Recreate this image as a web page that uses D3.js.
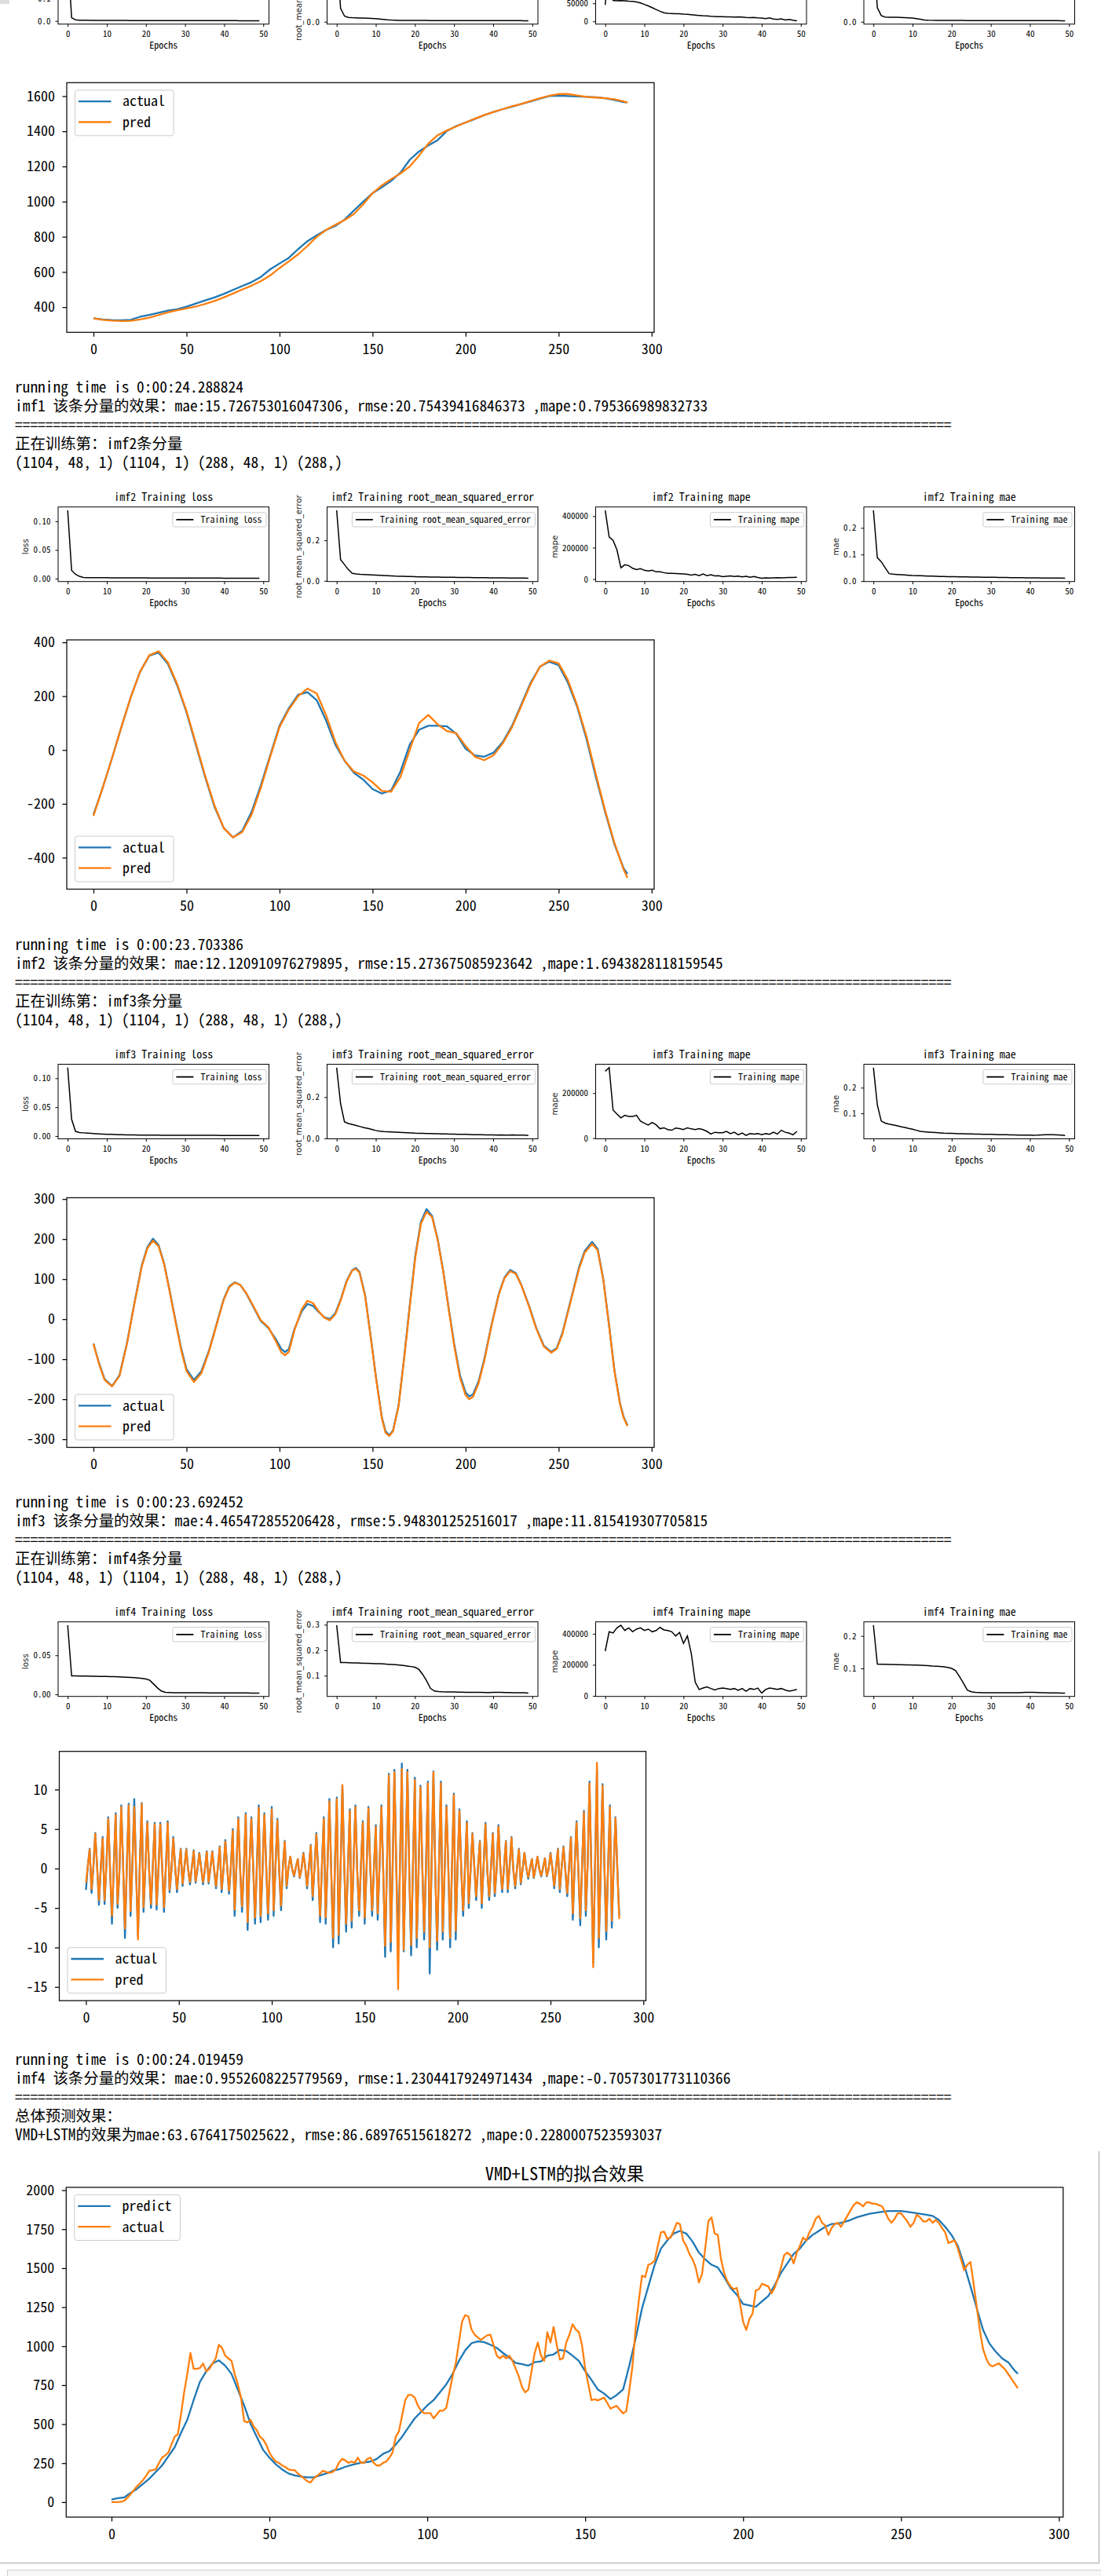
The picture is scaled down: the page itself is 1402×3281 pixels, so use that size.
<!DOCTYPE html>
<html>
<head>
<meta charset="utf-8">
<script src="https://cdn.jsdelivr.net/npm/d3@7"></script>
<style>
body { margin: 0; background: #fff; }
svg { display: block; }
</style>
</head>
<body>
<div class="canvas"></div>
<script>
// ---------- data ----------
var imfNames = ["imf1", "imf2", "imf3", "imf4"];
var metrics = ["loss", "root_mean_squared_error", "mape", "mae"];
var epochTicks = ["0", "10", "20", "30", "40", "50"];

// training history, 50 epochs each
var imf1Loss = [0.30, 0.014, 0.005, 0.0035, 0.003, 0.0028, 0.0026, 0.0025, 0.0024, 0.0023, 0.0022, 0.0021, 0.002, 0.002, 0.0019, 0.0019, 0.0018, 0.0018, 0.0017, 0.0017, 0.0016, 0.0016, 0.0016, 0.0015, 0.0015, 0.0015, 0.0014, 0.0014, 0.0014, 0.0014, 0.0013, 0.0013, 0.0013, 0.0013, 0.0012, 0.0012, 0.0012, 0.0012, 0.0012, 0.0011, 0.0011, 0.0011, 0.0011, 0.0011, 0.001, 0.001, 0.001, 0.001, 0.001, 0.001];
var imf1Rmse = [0.55, 0.108, 0.045, 0.034, 0.032, 0.031, 0.030, 0.029, 0.028, 0.026, 0.024, 0.021, 0.018, 0.015, 0.013, 0.012, 0.011, 0.011, 0.0105, 0.0105, 0.010, 0.010, 0.010, 0.0098, 0.0097, 0.0096, 0.0095, 0.0094, 0.0093, 0.0092, 0.0091, 0.009, 0.009, 0.0089, 0.0088, 0.0088, 0.0087, 0.0087, 0.0086, 0.0086, 0.0085, 0.0085, 0.0084, 0.0084, 0.0083, 0.0083, 0.0082, 0.0082, 0.0081, 0.0081];
var imf1Mape = [45600, 190000, 58000, 57000, 57500, 57000, 56000, 55500, 54000, 51000, 47000, 43000, 38000, 33000, 28000, 24000, 22000, 21500, 21000, 21000, 20000, 19500, 18500, 17500, 16500, 15500, 15000, 14000, 13500, 13000, 13000, 12500, 12500, 12000, 12500, 12000, 11000, 10500, 11000, 9500, 9000, 7500, 9500, 6500, 5500, 7000, 4000, 5500, 3000, 1800];
var imf1Mae = [0.45, 0.092, 0.04, 0.031, 0.030, 0.030, 0.029, 0.028, 0.027, 0.026, 0.024, 0.02, 0.016, 0.012, 0.010, 0.0095, 0.009, 0.009, 0.0088, 0.0087, 0.0086, 0.0085, 0.0084, 0.0083, 0.0082, 0.0081, 0.008, 0.008, 0.0079, 0.0079, 0.0078, 0.0078, 0.0077, 0.0077, 0.0076, 0.0076, 0.0075, 0.0075, 0.0074, 0.0074, 0.0073, 0.0073, 0.0072, 0.0072, 0.0071, 0.0071, 0.007, 0.007, 0.0069, 0.0069];

var imf2Loss = [0.119, 0.0143, 0.0076, 0.004, 0.002, 0.0018, 0.0017, 0.0016, 0.0016, 0.0015, 0.0015, 0.0014, 0.0014, 0.0014, 0.0013, 0.0013, 0.0013, 0.0012, 0.0012, 0.0012, 0.0012, 0.0011, 0.0011, 0.0011, 0.0011, 0.0011, 0.001, 0.001, 0.001, 0.001, 0.001, 0.001, 0.001, 0.0009, 0.0009, 0.0009, 0.0009, 0.0009, 0.0009, 0.0009, 0.0008, 0.0008, 0.0008, 0.0008, 0.0008, 0.0008, 0.0008, 0.0008, 0.0008, 0.0008];
var imf2Rmse = [0.348, 0.105, 0.08, 0.055, 0.0366, 0.034, 0.032, 0.031, 0.030, 0.029, 0.028, 0.027, 0.026, 0.025, 0.024, 0.023, 0.0225, 0.022, 0.0215, 0.021, 0.0205, 0.020, 0.0198, 0.0195, 0.019, 0.0188, 0.0185, 0.018, 0.0178, 0.0175, 0.0172, 0.017, 0.0168, 0.0165, 0.0162, 0.016, 0.0158, 0.0155, 0.0152, 0.015, 0.0148, 0.0146, 0.0145, 0.0143, 0.0141, 0.014, 0.0138, 0.0136, 0.0134, 0.0132];
var imf2Mape = [437000, 268000, 246000, 185000, 72000, 91000, 86000, 69000, 61000, 66000, 56000, 52000, 56000, 46000, 47000, 41000, 37000, 36000, 35000, 34000, 33000, 30000, 26000, 30000, 22000, 32000, 22000, 28000, 20000, 22000, 16000, 18000, 20000, 17000, 19000, 14000, 18000, 12000, 16000, 10000, 6000, 8000, 7000, 8000, 9000, 8000, 9000, 10000, 11000, 12000];
var imf2Mae = [0.266, 0.088, 0.073, 0.05, 0.028, 0.026, 0.025, 0.024, 0.023, 0.022, 0.021, 0.0205, 0.02, 0.0195, 0.019, 0.0185, 0.018, 0.0175, 0.017, 0.0168, 0.0165, 0.0162, 0.016, 0.0158, 0.0155, 0.0152, 0.015, 0.0148, 0.0146, 0.0144, 0.0142, 0.014, 0.0138, 0.0136, 0.0134, 0.0132, 0.013, 0.0128, 0.0126, 0.0124, 0.0122, 0.012, 0.0118, 0.0117, 0.0116, 0.0115, 0.0114, 0.0113, 0.0112, 0.011];

var imf3Loss = [0.1185, 0.029, 0.008, 0.006, 0.0055, 0.005, 0.0045, 0.004, 0.0036, 0.0033, 0.003, 0.0028, 0.0026, 0.0024, 0.0022, 0.002, 0.0019, 0.0018, 0.0017, 0.0017, 0.0016, 0.0016, 0.0015, 0.0015, 0.0014, 0.0014, 0.0014, 0.0013, 0.0013, 0.0013, 0.0012, 0.0012, 0.0012, 0.0012, 0.0011, 0.0011, 0.0011, 0.0011, 0.0011, 0.001, 0.001, 0.001, 0.001, 0.001, 0.001, 0.001, 0.001, 0.001, 0.001, 0.001];
var imf3Rmse = [0.343, 0.168, 0.08, 0.072, 0.067, 0.062, 0.057, 0.052, 0.048, 0.043, 0.038, 0.035, 0.033, 0.032, 0.031, 0.03, 0.029, 0.028, 0.027, 0.026, 0.025, 0.0245, 0.024, 0.0235, 0.023, 0.0225, 0.022, 0.0215, 0.021, 0.0205, 0.02, 0.0198, 0.0195, 0.019, 0.0185, 0.018, 0.0178, 0.0175, 0.017, 0.0168, 0.0165, 0.016, 0.0162, 0.0158, 0.016, 0.0165, 0.016, 0.0158, 0.0152, 0.014];
var imf3Mape = [297000, 313000, 125000, 107000, 90000, 101000, 96000, 96000, 101000, 76000, 66000, 58000, 70000, 59000, 42000, 46000, 38000, 35000, 45000, 42000, 38000, 46000, 41000, 38000, 42000, 38000, 30000, 18000, 26000, 24000, 24000, 30000, 20000, 26000, 15000, 23000, 12000, 20000, 18000, 20000, 15000, 20000, 17000, 26000, 18000, 35000, 26000, 22000, 15000, 30000];
var imf3Mae = [0.278, 0.133, 0.07, 0.062, 0.058, 0.055, 0.052, 0.048, 0.045, 0.041, 0.038, 0.034, 0.03, 0.028, 0.027, 0.026, 0.025, 0.024, 0.023, 0.0225, 0.022, 0.0215, 0.021, 0.0205, 0.02, 0.0198, 0.0195, 0.019, 0.0185, 0.0182, 0.018, 0.0175, 0.017, 0.0168, 0.0165, 0.016, 0.0158, 0.0155, 0.0152, 0.015, 0.015, 0.0148, 0.0152, 0.016, 0.0165, 0.017, 0.0165, 0.016, 0.015, 0.014];

var imf4Loss = [0.0884, 0.0237, 0.0236, 0.0235, 0.0234, 0.0233, 0.0232, 0.0231, 0.023, 0.0229, 0.0228, 0.0227, 0.0226, 0.0224, 0.0222, 0.022, 0.0217, 0.0213, 0.0208, 0.0203, 0.0197, 0.018, 0.013, 0.008, 0.004, 0.0025, 0.0023, 0.0022, 0.0022, 0.0021, 0.0021, 0.0021, 0.002, 0.002, 0.002, 0.002, 0.0019, 0.0019, 0.0019, 0.0019, 0.0019, 0.0018, 0.0018, 0.0018, 0.0018, 0.0018, 0.0018, 0.0017, 0.0017, 0.0017];
var imf4Rmse = [0.298, 0.152, 0.1515, 0.151, 0.1505, 0.150, 0.1495, 0.149, 0.1485, 0.148, 0.1475, 0.147, 0.146, 0.145, 0.144, 0.143, 0.142, 0.14, 0.138, 0.136, 0.133, 0.125, 0.105, 0.08, 0.05, 0.04, 0.038, 0.037, 0.0365, 0.036, 0.036, 0.0355, 0.0355, 0.035, 0.035, 0.035, 0.0345, 0.0345, 0.034, 0.034, 0.0345, 0.035, 0.0345, 0.034, 0.034, 0.0335, 0.0335, 0.033, 0.033, 0.032];
var imf4Mape = [288000, 413000, 405000, 438000, 455000, 421000, 438000, 413000, 430000, 438000, 421000, 430000, 413000, 421000, 441000, 425000, 421000, 413000, 386000, 408000, 338000, 386000, 272000, 88000, 41000, 50000, 58000, 47000, 38000, 47000, 50000, 47000, 41000, 47000, 35000, 47000, 30000, 47000, 41000, 50000, 18000, 41000, 50000, 47000, 41000, 47000, 38000, 30000, 35000, 41000];
var imf4Mae = [0.233, 0.113, 0.1128, 0.1125, 0.1122, 0.112, 0.1117, 0.1114, 0.111, 0.1107, 0.1104, 0.11, 0.1095, 0.109, 0.1085, 0.107, 0.1065, 0.106, 0.105, 0.103, 0.1, 0.093, 0.075, 0.055, 0.033, 0.028, 0.026, 0.0255, 0.025, 0.025, 0.025, 0.0248, 0.0248, 0.0247, 0.0247, 0.0248, 0.025, 0.0252, 0.0255, 0.026, 0.0262, 0.026, 0.0255, 0.025, 0.0248, 0.0245, 0.0245, 0.0242, 0.024, 0.024];

// y tick labels of the small panels (loss, rmse, mape, mae)
var imf1SmallTicks = [["0.0", "0.1", "0.2", "0.3"], ["0.0", "0.2", "0.4"], ["0", "50000", "100000", "150000"], ["0.0", "0.2", "0.4"]];
var imf2SmallTicks = [["0.00", "0.05", "0.10"], ["0.0", "0.2"], ["0", "200000", "400000"], ["0.0", "0.1", "0.2"]];
var imf3SmallTicks = [["0.00", "0.05", "0.10"], ["0.0", "0.2"], ["0", "200000"], ["0.0", "0.1", "0.2"]];
var imf4SmallTicks = [["0.00", "0.05"], ["0.1", "0.2", "0.3"], ["0", "200000", "400000"], ["0.1", "0.2"]];

// test-set predictions, 288 points (some series read at a coarser step)
var bigXTicks = ["0", "50", "100", "150", "200", "250", "300"];

var imf1Index = d3.range(0, 286, 5).concat([287]);
var imf1Actual = [336, 330, 326, 325, 328, 345, 356, 368, 380, 388, 402, 420, 438, 455, 475, 498, 520, 542, 572, 615, 648, 680, 730, 775, 808, 838, 862, 898, 950, 1000, 1048, 1082, 1118, 1165, 1238, 1285, 1320, 1350, 1402, 1430, 1450, 1470, 1492, 1510, 1526, 1540, 1556, 1570, 1586, 1600, 1603, 1600, 1598, 1596, 1594, 1588, 1578, 1566, 1565];
var imf1Pred = [336, 328, 323, 321, 322, 330, 340, 355, 370, 382, 392, 403, 418, 435, 455, 477, 500, 522, 548, 580, 622, 660, 700, 748, 800, 838, 868, 895, 930, 985, 1048, 1092, 1128, 1160, 1200, 1262, 1330, 1378, 1405, 1428, 1450, 1472, 1492, 1510, 1526, 1542, 1556, 1572, 1588, 1602, 1612, 1612, 1604, 1596, 1592, 1588, 1582, 1570, 1562];
var imf1YTicks = ["400", "600", "800", "1000", "1200", "1400", "1600"];

var imf2Index = d3.range(0, 286, 5).concat([287]);
var imf2Actual = [-240, -140, -30, 85, 195, 290, 350, 362, 320, 240, 140, 20, -100, -210, -290, -325, -300, -230, -130, -20, 90, 155, 205, 215, 185, 110, 20, -40, -85, -110, -145, -162, -150, -80, 20, 75, 90, 90, 88, 60, 5, -20, -25, -10, 30, 90, 170, 250, 310, 328, 315, 250, 160, 40, -100, -230, -350, -440, -460];
var imf2Pred = [-245, -140, -30, 85, 195, 290, 352, 367, 325, 245, 145, 25, -95, -205, -290, -325, -305, -240, -140, -25, 85, 150, 200, 228, 210, 130, 30, -40, -80, -95, -120, -152, -155, -100, 0, 100, 130, 95, 70, 62, 15, -25, -38, -20, 25, 85, 165, 245, 310, 332, 322, 260, 165, 50, -90, -225, -345, -445, -475];
var imf2YTicks = ["-400", "-200", "0", "200", "400"];

var imf3Index = [0, 3, 6, 10, 14, 18, 22, 26, 29, 32, 35, 38, 41, 44, 47, 50, 54, 58, 62, 66, 70, 73, 76, 79, 82, 86, 90, 94, 98, 101, 103, 105, 108, 112, 115, 118, 121, 124, 127, 130, 133, 136, 139, 141, 143, 146, 149, 152, 155, 157, 159, 161, 164, 167, 170, 173, 176, 179, 182, 185, 188, 191, 194, 197, 200, 202, 204, 207, 210, 214, 218, 221, 224, 227, 230, 234, 238, 242, 246, 249, 252, 255, 258, 261, 264, 268, 271, 274, 277, 280, 283, 285, 287];
var imf3Actual = [-61, -110, -150, -167, -140, -60, 40, 135, 180, 201, 185, 139, 70, -1, -70, -125, -152, -130, -80, -15, 50, 82, 92, 85, 65, 30, -5, -22, -50, -75, -82, -75, -25, 20, 38, 33, 18, 5, 0, 15, 50, 95, 122, 128, 118, 60, -43, -150, -245, -280, -290, -278, -215, -95, 35, 160, 243, 275, 258, 200, 120, 25, -65, -140, -183, -193, -188, -155, -101, -13, 66, 105, 123, 115, 85, 35, -22, -66, -82, -72, -35, 20, 75, 130, 170, 193, 175, 100, -10, -128, -210, -245, -265];
var imf3Pred = [-62, -112, -152, -168, -142, -62, 38, 132, 177, 196, 182, 137, 68, -4, -74, -130, -157, -135, -83, -17, 48, 80, 91, 85, 66, 32, -3, -20, -55, -83, -90, -82, -28, 25, 46, 40, 20, 4, -3, 12, 48, 93, 121, 126, 116, 58, -45, -152, -248, -284, -292, -280, -217, -98, 30, 155, 238, 268, 255, 198, 118, 22, -70, -146, -190, -200, -194, -160, -105, -15, 64, 103, 120, 113, 84, 33, -24, -68, -84, -74, -38, 17, 72, 126, 166, 188, 172, 98, -12, -130, -212, -247, -267];
var imf3YTicks = ["-300", "-200", "-100", "0", "100", "200", "300"];

var imf4Index = d3.range(288);
var imf4Actual = [
  -2.7, 0.3, 2.5, -3.1, 0.2, 4.5, 0.3, -4.6, 0.2, 4.0, -4.5, 0.4, 6.5, -0.3,
  -7.0, 0.5, 7.0, -5.0, -0.5, 8.0, 0.4, -8.8, 0.3, 8.2, -6.0, 0.5, 8.8, -0.4,
  -8.5, 0.6, 8.3, -5.5, 0.3, 6.0, -0.2, -5.0, 0.4, 5.8, -5.2, -0.3, 5.8, 0.3,
  -5.5, 0.2, 6.0, -3.0, -0.2, 4.0, 0.2, -3.0, 0.1, 2.5, -2.2, 0.2, 2.5, -0.1,
  -2.0, 0.2, 2.3, -1.8, -0.1, 2.0, 0.1, -2.0, -0.1, 2.2, -1.9, 0.1, 2.2, -0.2,
  -2.5, 0.2, 2.8, -3.0, -0.2, 3.6, 0.2, -3.2, 0.3, 5.0, -6.0, 0.4, 6.5, -0.3,
  -5.5, 0.3, 7.0, -7.8, 0.5, 6.5, 0.2, -7.0, 0.5, 8.0, -6.8, -0.3, 7.0, 0.3,
  -6.5, 0.4, 7.8, -6.0, 0.2, 6.3, -0.3, -5.3, 0.3, 3.5, -2.5, 0.1, 1.5, -0.1,
  -1.0, 0.2, 1.2, -1.2, -0.1, 2.0, 0.2, -2.5, 0.3, 3.0, -4.0, 0.2, 4.5, -0.3,
  -6.8, 0.4, 6.5, -7.0, 0.3, 8.8, -0.4, -10.0, 0.5, 9.0, -9.5, -0.4, 10.5, 0.4,
  -8.0, 0.3, 7.5, -7.5, 0.4, 8.0, -0.3, -6.0, 0.4, 6.0, -7.0, -0.3, 7.8, 0.3,
  -6.0, 0.2, 5.5, -6.5, 0.4, 8.0, -0.4, -11.2, 0.5, 12.0, -10.5, -0.5, 12.5, 0.5,
  -10.5, 0.6, 13.3, -10.5, 0.4, 12.5, -0.5, -11.0, 0.5, 11.5, -10.0, -0.4, 10.5, 0.4,
  -9.0, 0.4, 11.0, -13.3, 0.5, 12.3, -0.5, -10.3, 0.5, 11.0, -9.0, -0.4, 8.0, 0.3,
  -10.0, 0.4, 9.5, -9.0, 0.3, 7.5, -0.3, -6.0, 0.3, 6.0, -5.0, -0.2, 4.5, 0.2,
  -4.0, 0.2, 3.5, -5.0, 0.3, 5.8, -0.2, -4.0, 0.3, 4.5, -3.5, -0.2, 5.5, 0.2,
  -3.0, 0.2, 3.5, -3.0, 0.2, 4.0, -0.2, -2.5, 0.1, 2.5, -2.0, -0.1, 2.0, 0.1,
  -1.3, 0.1, 1.2, -1.2, 0.1, 1.5, -0.1, -1.0, 0.1, 1.3, -1.0, -0.1, 2.0, 0.1,
  -2.5, 0.2, 2.5, -3.0, 0.2, 2.8, -0.2, -3.5, 0.3, 4.0, -6.5, 0.3, 6.0, -0.3,
  -7.2, 0.4, 7.3, -6.0, 0.5, 11.0, -0.4, -12.0, 0.6, 12.5, -10.0, -0.5, 10.7, 0.5,
  -9.0, 0.4, 8.0, -7.5, 0.3, 6.5, -0.3, -6.0];
var imf4Pred = [
  -1.8, 0.3, 2.4, -2.6, 0.2, 4.4, 0.3, -4.0, 0.2, 3.8, -4.0, 0.4, 6.3, -0.3,
  -6.0, 0.5, 6.8, -4.5, -0.5, 7.8, 0.4, -7.6, 0.3, 8.0, -5.4, 0.5, 7.8, -0.4,
  -9.0, 0.6, 8.2, -4.9, 0.3, 5.8, -0.2, -4.5, 0.4, 5.6, -4.6, -0.3, 5.6, 0.3,
  -4.9, 0.2, 5.8, -2.7, -0.2, 3.8, 0.2, -2.6, 0.1, 2.4, -1.9, 0.2, 2.4, -0.1,
  -1.7, 0.2, 2.2, -1.6, -0.1, 1.9, 0.1, -1.7, -0.1, 2.1, -1.7, 0.1, 2.1, -0.2,
  -2.2, 0.2, 2.7, -2.6, -0.2, 3.4, 0.2, -2.8, 0.3, 4.8, -5.2, 0.4, 6.3, -0.3,
  -4.8, 0.3, 6.8, -6.8, 0.5, 6.3, 0.2, -6.2, 0.5, 7.7, -6.0, -0.3, 6.8, 0.3,
  -5.7, 0.4, 7.5, -5.3, 0.2, 6.1, -0.3, -4.7, 0.3, 3.4, -2.2, 0.1, 1.5, -0.1,
  -0.9, 0.2, 1.2, -1.1, -0.1, 1.9, 0.2, -2.2, 0.3, 2.9, -3.5, 0.2, 4.3, -0.3,
  -6.0, 0.4, 6.3, -6.2, 0.3, 8.5, -0.4, -8.8, 0.5, 8.8, -8.4, -0.4, 10.6, 0.4,
  -7.0, 0.3, 7.3, -6.6, 0.4, 7.8, -0.3, -5.3, 0.4, 5.8, -6.2, -0.3, 7.6, 0.3,
  -5.3, 0.2, 5.3, -5.7, 0.4, 7.8, -0.4, -9.8, 0.5, 11.8, -9.3, -0.5, 12.2, 0.5,
  -15.3, 0.6, 12.6, -10.3, 0.4, 12.2, -0.5, -9.7, 0.5, 11.2, -8.8, -0.4, 10.3, 0.4,
  -8.0, 0.4, 10.8, -10.0, 0.5, 12.2, -0.5, -9.2, 0.5, 10.8, -8.0, -0.4, 7.8, 0.3,
  -8.8, 0.4, 9.3, -7.9, 0.3, 7.3, -0.3, -5.3, 0.3, 5.8, -4.4, -0.2, 4.4, 0.2,
  -3.5, 0.2, 3.4, -4.4, 0.3, 5.6, -0.2, -3.5, 0.3, 4.4, -3.1, -0.2, 5.3, 0.2,
  -2.6, 0.2, 3.4, -2.6, 0.2, 3.9, -0.2, -2.2, 0.1, 2.4, -1.8, -0.1, 2.0, 0.1,
  -1.1, 0.1, 1.2, -1.1, 0.1, 1.5, -0.1, -0.9, 0.1, 1.3, -0.9, -0.1, 1.9, 0.1,
  -2.2, 0.2, 2.4, -2.6, 0.2, 2.7, -0.2, -3.1, 0.3, 3.9, -5.7, 0.3, 5.8, -0.3,
  -6.3, 0.4, 7.1, -5.3, 0.5, 10.8, -0.4, -12.5, 0.6, 13.4, -8.8, -0.5, 10.5, 0.5,
  -7.9, 0.4, 7.8, -6.6, 0.3, 6.4, -0.3, -6.4];
var imf4YTicks = ["-15", "-10", "-5", "0", "5", "10"];

var finalActualIndex = d3.range(288);
var finalActual = [
  0, 0, 0, 3, 8, 28, 50, 75, 100, 120,
  142, 170, 201, 205, 210, 250, 285, 300, 318, 370,
  419, 436, 562, 704, 822, 956, 855, 855, 860, 889,
  838, 855, 889, 922, 1009, 989, 939, 922, 905, 822,
  755, 671, 520, 511, 528, 486, 461, 419, 402, 369,
  318, 285, 260, 252, 235, 226, 210, 205, 205, 184,
  168, 151, 134, 126, 151, 168, 184, 201, 193, 188,
  193, 210, 252, 277, 268, 252, 260, 252, 285, 252,
  252, 277, 285, 252, 235, 235, 252, 260, 285, 319,
  419, 453, 553, 654, 687, 687, 671, 620, 587, 570,
  570, 570, 537, 562, 587, 587, 604, 704, 805, 889,
  1023, 1157, 1199, 1190, 1107, 1073, 1056, 1040, 1056, 1070,
  1073, 1006, 939, 922, 939, 922, 939, 905, 855, 805,
  738, 704, 721, 838, 956, 1023, 939, 905, 1090, 1023,
  1123, 1006, 914, 922, 1023, 1073, 1140, 1107, 1090, 1006,
  855, 755, 654, 660, 652, 661, 670, 635, 600, 609,
  617, 591, 569, 583, 722, 878, 1122, 1296, 1452, 1443,
  1522, 1530, 1548, 1643, 1730, 1734, 1687, 1696, 1739, 1791,
  1783, 1678, 1643, 1591, 1557, 1504, 1409, 1461, 1626, 1800,
  1826, 1722, 1713, 1557, 1470, 1417, 1383, 1365, 1374, 1278,
  1157, 1104, 1174, 1209, 1357, 1365, 1400, 1391, 1383, 1339,
  1374, 1435, 1504, 1583, 1600, 1583, 1530, 1600, 1643, 1696,
  1678, 1730, 1765, 1817, 1835, 1791, 1774, 1713, 1757, 1783,
  1791, 1765, 1800, 1835, 1870, 1904, 1922, 1913, 1896, 1922,
  1922, 1913, 1913, 1904, 1896, 1861, 1817, 1791, 1817, 1852,
  1852, 1826, 1800, 1765, 1791, 1843, 1826, 1800, 1800, 1817,
  1791, 1809, 1791, 1757, 1730, 1661, 1670, 1678, 1626, 1557,
  1487, 1522, 1539, 1400, 1250, 1100, 980, 920, 880, 870,
  880, 890, 870, 850, 820, 790, 760, 730];
var finalPredIndex = d3.range(0, 287, 2).concat([287]);
var finalPredict = [
  17, 25, 30, 59, 84, 117, 151, 193, 235, 293,
  352, 444, 528, 654, 771, 838, 889, 909, 875, 822,
  721, 620, 503, 419, 335, 285, 243, 210, 184, 171,
  164, 159, 159, 171, 184, 201, 210, 226, 238, 248,
  255, 260, 277, 310, 327, 369, 419, 478, 537, 578,
  620, 654, 704, 755, 822, 905, 973, 1019, 1031, 1026,
  1009, 989, 956, 926, 892, 885, 875, 897, 902, 939,
  947, 976, 969, 939, 905, 840, 783, 722, 696, 661,
  687, 722, 878, 1052, 1243, 1383, 1522, 1626, 1678, 1722,
  1739, 1722, 1670, 1600, 1557, 1522, 1504, 1443, 1374, 1330,
  1270, 1261, 1252, 1287, 1322, 1391, 1470, 1530, 1591, 1626,
  1678, 1713, 1739, 1765, 1783, 1786, 1796, 1809, 1826, 1838,
  1849, 1855, 1861, 1866, 1866, 1866, 1861, 1855, 1849, 1843,
  1835, 1809, 1765, 1713, 1643, 1522, 1383, 1243, 1104, 1017,
  965, 922, 896, 843, 823];
var finalYTicks = ["0", "250", "500", "750", "1000", "1250", "1500", "1750", "2000"];

// printed output of the notebook
var textImf1 = ["running time is 0:00:24.288824",
  "imf1 该条分量的效果：mae:15.726753016047306, rmse:20.75439416846373 ,mape:0.795366989832733",
  "=".repeat(123), "正在训练第：imf2条分量", "(1104, 48, 1) (1104, 1) (288, 48, 1) (288,)"];
var textImf2 = ["running time is 0:00:23.703386",
  "imf2 该条分量的效果：mae:12.120910976279895, rmse:15.273675085923642 ,mape:1.6943828118159545",
  "=".repeat(123), "正在训练第：imf3条分量", "(1104, 48, 1) (1104, 1) (288, 48, 1) (288,)"];
var textImf3 = ["running time is 0:00:23.692452",
  "imf3 该条分量的效果：mae:4.465472855206428, rmse:5.948301252516017 ,mape:11.815419307705815",
  "=".repeat(123), "正在训练第：imf4条分量", "(1104, 48, 1) (1104, 1) (288, 48, 1) (288,)"];
var textImf4 = ["running time is 0:00:24.019459",
  "imf4 该条分量的效果：mae:0.9552608225779569, rmse:1.2304417924971434 ,mape:-0.7057301773110366",
  "=".repeat(123), "总体预测效果：",
  "VMD+LSTM的效果为mae:63.6764175025622, rmse:86.68976515618272 ,mape:0.2280007523593037"];


// ---------- drawing ----------
var width = 1402,
	height = 3281;

var svg = d3.select(".canvas")
	.append("svg")
	.attr("width", width)
	.attr("height", height);

var monoFont = '"Noto Sans Mono CJK SC", "Noto Sans CJK SC", monospace';
var labelFont = '"DejaVu Sans", sans-serif';
var blue = "#1f77b4", orange = "#ff7f0e";

// matplotlib style 5% margins
function pad(ext) {
	var r = ext[1] - ext[0];
	return [ext[0] - r * 0.05, ext[1] + r * 0.05];
}

function styleAxis(sel, fontSize, tickWidth) {
	sel.select(".domain").remove();
	sel.selectAll(".tick line").attr("stroke", "#000").attr("stroke-width", tickWidth);
	sel.selectAll(".tick text")
		.attr("font-family", monoFont)
		.attr("font-size", fontSize)
		.attr("fill", "#000");
}

/* ---------- small training panels ---------- */
var smallW = 268.5, smallH = 95;
var smallLefts = [74, 416.5, 758.5, 1100];
var rowTops = [-64.3, 645.7, 1355.5, 2065.7];

function smallPanel(left, top, imf, metric, values, tickLabels) {
	var g = svg.append("g").attr("transform", "translate(" + left + "," + top + ")");
	var x = d3.scaleLinear().domain(pad([0, values.length - 1])).range([0, smallW]);
	var y = d3.scaleLinear().domain(pad(d3.extent(values))).range([smallH, 0]);
	var dom = y.domain();
	var yt = tickLabels.filter(function(t) { return +t >= dom[0] && +t <= dom[1]; });

	g.append("path")
		.datum(values)
		.attr("d", d3.line().x(function(d, i) { return x(i); }).y(function(d) { return y(d); }))
		.attr("fill", "none")
		.attr("stroke", "#000")
		.attr("stroke-width", 1.5);

	var xa = g.append("g")
		.attr("transform", "translate(0," + smallH + ")")
		.call(d3.axisBottom(x).tickValues(epochTicks.map(Number))
			.tickFormat(function(d, i) { return epochTicks[i]; })
			.tickSize(3.5).tickPadding(5.5));
	styleAxis(xa, 11, 1);

	var ya = g.append("g")
		.call(d3.axisLeft(y).tickValues(yt.map(Number))
			.tickFormat(function(d, i) { return yt[i]; })
			.tickSize(3.5).tickPadding(6));
	styleAxis(ya, 11, 1);

	g.append("rect")
		.attr("width", smallW).attr("height", smallH)
		.attr("fill", "none").attr("stroke", "#000").attr("stroke-width", 1);

	g.append("text")
		.attr("x", smallW / 2).attr("y", -7.5)
		.attr("text-anchor", "middle")
		.attr("font-family", monoFont).attr("font-size", 14)
		.text(imf + " Training " + metric);

	g.append("text")
		.attr("x", smallW / 2).attr("y", smallH + 31)
		.attr("text-anchor", "middle")
		.attr("font-family", monoFont).attr("font-size", 12)
		.text("Epochs");

	// ylabel sits left of the widest tick label
	var maxW = d3.max(ya.selectAll("text").nodes(), function(n) { return n.getComputedTextLength(); }) || 0;
	var cx = -3.5 - 6 - maxW - 10;
	g.append("text")
		.attr("transform", "translate(" + cx + "," + (smallH / 2 + 3) + ") rotate(-90)")
		.attr("text-anchor", "middle")
		.attr("dy", "0.35em")
		.attr("font-family", labelFont).attr("font-size", 10.3)
		.attr("fill", "#222")
		.text(metric);

	// legend, upper right
	var lg = g.append("g");
	var lt = lg.append("text")
		.attr("font-family", monoFont).attr("font-size", 12)
		.text("Training " + metric);
	var tw = lt.node().getComputedTextLength();
	var bw = tw + 41, bx = smallW - 3.6 - bw, by = 7, bh = 18.3;
	lg.insert("rect", "text")
		.attr("x", bx).attr("y", by).attr("width", bw).attr("height", bh).attr("rx", 2)
		.attr("fill", "#fff").attr("fill-opacity", 0.8)
		.attr("stroke", "#ccc").attr("stroke-width", 1);
	lg.insert("line", "text")
		.attr("x1", bx + 4.5).attr("x2", bx + 26.5)
		.attr("y1", by + bh / 2).attr("y2", by + bh / 2)
		.attr("stroke", "#000").attr("stroke-width", 1.8);
	lt.attr("x", bx + 35.5).attr("y", by + bh / 2 + 4);
}

var smallRows = [
	[imf1Loss, imf1Rmse, imf1Mape, imf1Mae],
	[imf2Loss, imf2Rmse, imf2Mape, imf2Mae],
	[imf3Loss, imf3Rmse, imf3Mape, imf3Mae],
	[imf4Loss, imf4Rmse, imf4Mape, imf4Mae]
];
var smallTickRows = [imf1SmallTicks, imf2SmallTicks, imf3SmallTicks, imf4SmallTicks];

smallRows.forEach(function(row, r) {
	row.forEach(function(values, c) {
		smallPanel(smallLefts[c], rowTops[r], imfNames[r], metrics[c], values, smallTickRows[r][c]);
	});
});

/* ---------- prediction panels ---------- */
function bigPanel(opt) {
	var g = svg.append("g").attr("transform", "translate(" + opt.left + "," + opt.top + ")");
	var allV = d3.merge(opt.series.map(function(s) { return s.values; }));
	var x = d3.scaleLinear().domain(pad([0, 287])).range([0, opt.w]);
	var y = d3.scaleLinear().domain(pad(d3.extent(allV))).range([opt.h, 0]);

	opt.series.forEach(function(s) {
		g.append("path")
			.datum(s.values)
			.attr("d", d3.line().x(function(d, i) { return x(s.index[i]); }).y(function(d) { return y(d); }))
			.attr("fill", "none")
			.attr("stroke", s.color)
			.attr("stroke-width", 2.3)
			.attr("stroke-linejoin", "round");
	});

	var xa = g.append("g")
		.attr("transform", "translate(0," + opt.h + ")")
		.call(d3.axisBottom(x).tickValues(bigXTicks.map(Number))
			.tickFormat(function(d, i) { return bigXTicks[i]; })
			.tickSize(5.5).tickPadding(9.5));
	styleAxis(xa, 18, 1.25);

	var ya = g.append("g")
		.call(d3.axisLeft(y).tickValues(opt.yTicks.map(Number))
			.tickFormat(function(d, i) { return opt.yTicks[i]; })
			.tickSize(5.5).tickPadding(9.5));
	styleAxis(ya, 18, 1.25);

	g.append("rect")
		.attr("width", opt.w).attr("height", opt.h)
		.attr("fill", "none").attr("stroke", "#111").attr("stroke-width", 1.3);

	if (opt.title) {
		g.append("text")
			.attr("x", opt.w / 2).attr("y", -9.5)
			.attr("text-anchor", "middle")
			.attr("font-family", monoFont).attr("font-size", 22.5)
			.attr("fill", "#000")
			.text(opt.title);
	}

	// legend
	var bh = 58;
	var bx = 10.5, by = opt.legend === "upper" ? 9.5 : opt.h - 9.5 - bh;
	var lg = g.append("g");
	var box = lg.append("rect");
	var texts = [];
	opt.series.forEach(function(s, i) {
		var cy = by + 14.3 + i * 26.4;
		lg.append("line")
			.attr("x1", bx + 4.5).attr("x2", bx + 46)
			.attr("y1", cy).attr("y2", cy)
			.attr("stroke", s.color).attr("stroke-width", 2.3);
		texts.push(lg.append("text")
			.attr("x", bx + 60.6).attr("y", cy + 6.3)
			.attr("font-family", monoFont).attr("font-size", 18)
			.text(s.name));
	});
	var tw = d3.max(texts, function(t) { return t.node().getComputedTextLength(); });
	box.attr("x", bx).attr("y", by).attr("width", 60.6 + tw + 11).attr("height", bh).attr("rx", 3)
		.attr("fill", "#fff").attr("fill-opacity", 0.8)
		.attr("stroke", "#ccc").attr("stroke-width", 1);
}

bigPanel({ left: 85, top: 105.3, w: 748, h: 318, legend: "upper", yTicks: imf1YTicks,
	series: [{ name: "actual", color: blue, index: imf1Index, values: imf1Actual },
		{ name: "pred", color: orange, index: imf1Index, values: imf1Pred }] });
bigPanel({ left: 85, top: 815, w: 748, h: 317.5, legend: "lower", yTicks: imf2YTicks,
	series: [{ name: "actual", color: blue, index: imf2Index, values: imf2Actual },
		{ name: "pred", color: orange, index: imf2Index, values: imf2Pred }] });
bigPanel({ left: 85, top: 1525.5, w: 748, h: 318, legend: "lower", yTicks: imf3YTicks,
	series: [{ name: "actual", color: blue, index: imf3Index, values: imf3Actual },
		{ name: "pred", color: orange, index: imf3Index, values: imf3Pred }] });
bigPanel({ left: 75.5, top: 2230.7, w: 747, h: 317.5, legend: "lower", yTicks: imf4YTicks,
	series: [{ name: "actual", color: blue, index: imf4Index, values: imf4Actual },
		{ name: "pred", color: orange, index: imf4Index, values: imf4Pred }] });
bigPanel({ left: 84.3, top: 2786, w: 1269.5, h: 420, legend: "upper", yTicks: finalYTicks,
	title: "VMD+LSTM的拟合效果",
	series: [{ name: "predict", color: blue, index: finalPredIndex, values: finalPredict },
		{ name: "actual", color: orange, index: finalActualIndex, values: finalActual }] });

/* ---------- printed text ---------- */
function textBlock(lines, y0) {
	svg.append("g").selectAll("text")
		.data(lines)
		.join("text")
		.attr("x", 19)
		.attr("y", function(d, i) { return y0 + i * 24; })
		.attr("font-family", monoFont)
		.attr("font-size", 19.4)
		.attr("fill", "#000")
		.style("white-space", "pre")
		.text(function(d) { return d; });
}
textBlock(textImf1, 500);
textBlock(textImf2, 1210);
textBlock(textImf3, 1920);
textBlock(textImf4, 2630);

/* ---------- notebook frame bits ---------- */
svg.append("rect").attr("x", 0).attr("y", 0).attr("width", 12).attr("height", 5).attr("fill", "#ddd");
svg.append("line").attr("x1", 1399.5).attr("x2", 1399.5).attr("y1", 2740).attr("y2", 3264.5)
	.attr("stroke", "#bbb").attr("stroke-width", 1.5);
svg.append("line").attr("x1", 0).attr("x2", 1400).attr("y1", 3264.5).attr("y2", 3264.5)
	.attr("stroke", "#bbb").attr("stroke-width", 1.5);
svg.append("rect").attr("x", 9.5).attr("y", 3273.5).attr("width", 1400).attr("height", 20)
	.attr("fill", "#f7f7f7").attr("stroke", "#cfcfcf").attr("stroke-width", 1);
</script>
</body>
</html>
